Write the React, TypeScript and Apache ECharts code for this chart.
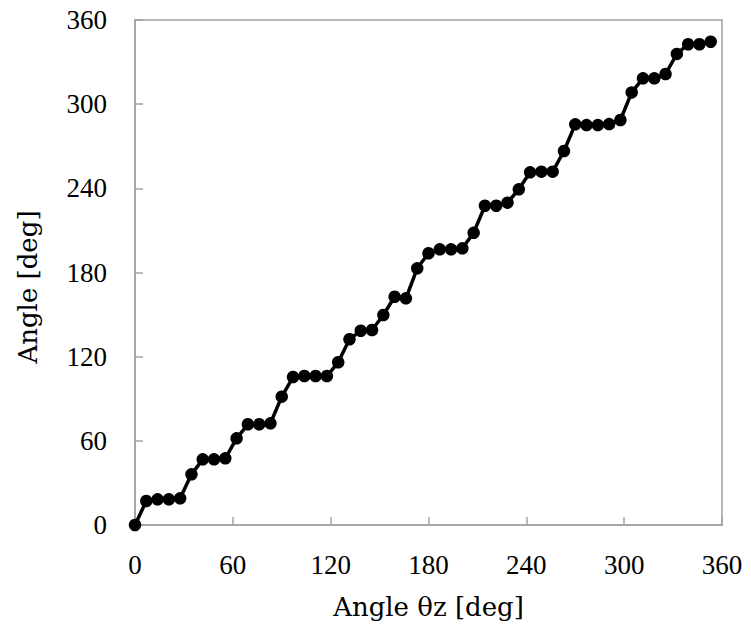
import React, { useEffect, useRef } from "react";
import * as echarts from "echarts";

// Angle θz [deg] (sample positions)
const thetaZ: number[] = [
  0, 6.92, 13.85, 20.77, 27.69, 34.62, 41.54, 48.46, 55.38, 62.31,
  69.23, 76.15, 83.08, 90, 96.92, 103.85, 110.77, 117.69, 124.62, 131.54,
  138.46, 145.38, 152.31, 159.23, 166.15, 173.08, 180, 186.92, 193.85, 200.77,
  207.69, 214.62, 221.54, 228.46, 235.38, 242.31, 249.23, 256.15, 263.08, 270,
  276.92, 283.85, 290.77, 297.69, 304.62, 311.54, 318.46, 325.38, 332.31, 339.23,
  346.15, 353.08,
];

// Measured angle [deg]
const angle: number[] = [
  0, 17.1, 18.3, 18.3, 19, 36.1, 46.8, 46.8, 47.5, 61.8,
  71.8, 71.8, 72.5, 91.5, 105.5, 106.2, 106.2, 106.2, 116, 132.4,
  138.5, 139, 149.7, 162.7, 161.6, 183, 193.7, 196.5, 196.5, 197.2,
  208.3, 227.6, 227.6, 229.8, 239.3, 251.4, 251.9, 251.9, 266.6, 285.6,
  285.1, 285.1, 285.8, 288.7, 308.4, 318.4, 318.4, 321.5, 335.8, 342.7,
  342.7, 344.5,
];

const xTitle = "Angle θz [deg]";
const yTitle = "Angle [deg]";

const axisGrey = "#a0a0a0";
const tickFont = "Liberation Serif";
const titleFont = "DejaVu Serif";

export default function App() {
  const ref = useRef<HTMLDivElement>(null);

  useEffect(() => {
    if (!ref.current) return;
    const chart = echarts.init(ref.current, null, { renderer: "svg" });
    const common = {
      type: "value" as const,
      min: 0,
      max: 360,
      interval: 60,
      axisLine: { show: true, lineStyle: { color: axisGrey, width: 1.5 } },
      axisTick: { show: true, inside: true, length: 8, lineStyle: { color: axisGrey, width: 1.5 } },
      splitLine: { show: false },
    };
    chart.setOption({
      animation: false,
      backgroundColor: "#ffffff",
      grid: {
        left: 135,
        right: 29,
        top: 20,
        bottom: 103,
        show: true,
        borderColor: axisGrey,
        borderWidth: 1.5,
        backgroundColor: "transparent",
      },
      xAxis: {
        ...common,
        name: xTitle,
        nameLocation: "middle",
        nameGap: 69,
        nameTextStyle: { fontFamily: titleFont, fontSize: 26, color: "#000" },
        axisLabel: { margin: 26, fontFamily: tickFont, fontSize: 27, color: "#000" },
      },
      yAxis: {
        ...common,
        axisLabel: { margin: 28, fontFamily: tickFont, fontSize: 27, color: "#000" },
      },
      graphic: [
        {
          type: "text",
          x: 28,
          y: 287,
          rotation: Math.PI / 2,
          style: {
            text: yTitle,
            fontFamily: titleFont,
            fontSize: 26,
            fill: "#000",
            align: "center",
            verticalAlign: "middle",
          },
        },
      ],
      series: [
        {
          type: "line",
          data: thetaZ.map((x, i) => [x, angle[i]]),
          symbol: "circle",
          symbolSize: 12.5,
          showSymbol: true,
          lineStyle: { color: "#000", width: 3.5 },
          itemStyle: { color: "#000" },
        },
      ],
    });
    return () => chart.dispose();
  }, []);

  return (
    <div
      ref={ref}
      style={{ position: "fixed", left: 0, top: 0, width: 751, height: 628, background: "#fff" }}
    />
  );
}
